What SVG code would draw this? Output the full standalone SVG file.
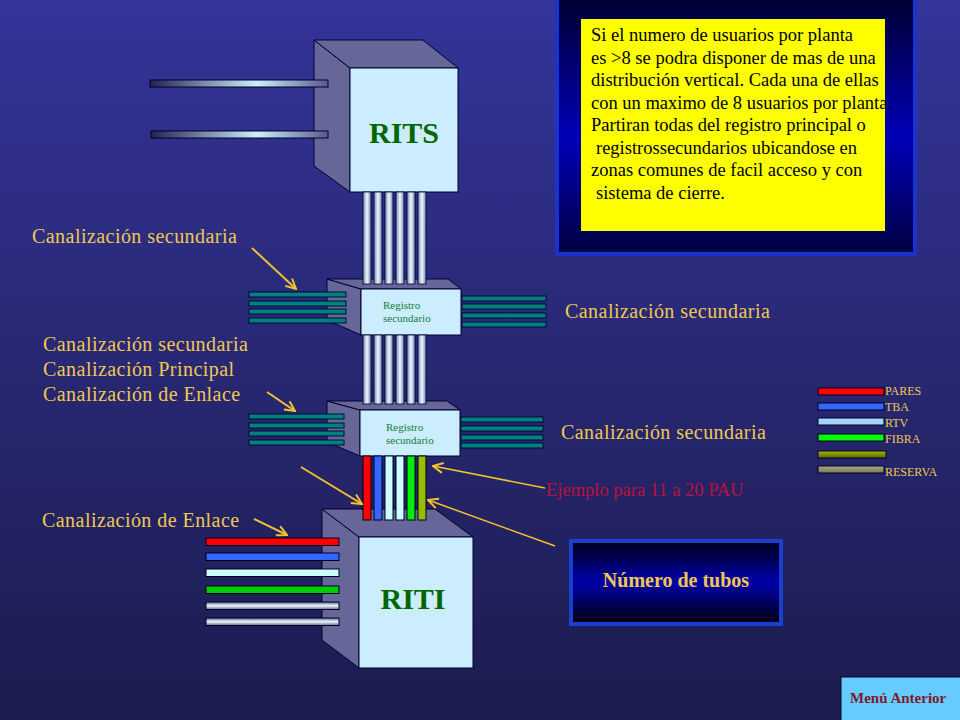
<svg xmlns="http://www.w3.org/2000/svg" width="960" height="720" viewBox="0 0 960 720">
<defs>
<linearGradient id="bg" x1="0" y1="0" x2="0" y2="1"><stop offset="0" stop-color="#34349a"/><stop offset="1" stop-color="#1c1c4e"/></linearGradient>
<linearGradient id="hbar" x1="0" y1="0" x2="1" y2="0"><stop offset="0" stop-color="#222255"/><stop offset="0.6" stop-color="#ccf0ff"/><stop offset="1" stop-color="#555a90"/></linearGradient>
<linearGradient id="vtube" x1="0" y1="0" x2="1" y2="0"><stop offset="0" stop-color="#6f86b0"/><stop offset="0.5" stop-color="#eef8ff"/><stop offset="1" stop-color="#6f86b0"/></linearGradient>
<linearGradient id="gbar" x1="0" y1="0" x2="0" y2="1"><stop offset="0" stop-color="#5a6a90"/><stop offset="0.5" stop-color="#eef8ff"/><stop offset="1" stop-color="#5a6a90"/></linearGradient>
<linearGradient id="olive" x1="0" y1="0" x2="0" y2="1"><stop offset="0" stop-color="#aabb00"/><stop offset="1" stop-color="#556600"/></linearGradient>
<linearGradient id="grayolive" x1="0" y1="0" x2="0" y2="1"><stop offset="0" stop-color="#aaaa88"/><stop offset="1" stop-color="#777755"/></linearGradient>
<linearGradient id="navy" x1="0" y1="0" x2="0" y2="1"><stop offset="0" stop-color="#000030"/><stop offset="0.55" stop-color="#0000b8"/><stop offset="1" stop-color="#000040"/></linearGradient>
<linearGradient id="navy2" x1="0" y1="0" x2="0" y2="1"><stop offset="0" stop-color="#000018"/><stop offset="0.5" stop-color="#0000aa"/><stop offset="1" stop-color="#000010"/></linearGradient>
<marker id="ah" viewBox="0 0 12 12" refX="11" refY="6" markerWidth="12" markerHeight="12" markerUnits="userSpaceOnUse" orient="auto"><path d="M1,1 L11,6 L1,11" fill="none" stroke="#F2C12E" stroke-width="2"/></marker>
</defs>
<style>
.side{fill:#666699;stroke:#000033;stroke-width:1}
.front{fill:#CCECFF;stroke:#000033;stroke-width:1}
.big{font-family:"Liberation Serif","Times New Roman",serif;font-weight:bold;font-size:30px;fill:#006600;text-anchor:middle}
.reg{font-family:"Liberation Serif","Times New Roman",serif;font-size:11px;fill:#108036}
.tube{fill:url(#vtube);stroke:#000033;stroke-width:0.8}
.teal{fill:#008080;stroke:#000d33;stroke-width:1}
.bar{stroke:#000022;stroke-width:1}
.lbl{font-family:"Liberation Serif","Times New Roman",serif;font-size:20px;fill:#F0C850;letter-spacing:0.45px}
.leg{font-family:"Liberation Serif","Times New Roman",serif;font-size:12px;fill:#F0C850}
.info{font-family:"Liberation Serif","Times New Roman",serif;font-size:18.5px;fill:#000000}
.arr{stroke:#F2C12E;stroke-width:2;fill:none;marker-end:url(#ah)}
.arr2{stroke:#F2C12E;stroke-width:1.5;fill:none;marker-end:url(#ah)}
</style>
<rect x="0" y="0" width="960" height="720" fill="url(#bg)"/>

<g id="rits">
<polygon class="side" points="314,40 350,68 350,192 314,166"/>
<polygon class="side" points="314,40 423,40 458,68 350,68"/>
<rect class="front" x="350" y="68" width="108" height="124"/>
<text class="big" x="404" y="143">RITS</text>
<rect x="150" y="80" width="178" height="7" fill="url(#hbar)" stroke="#000022"/>
<rect x="151" y="131" width="177" height="7" fill="url(#hbar)" stroke="#000022"/>
</g>

<g id="registro1">
<polygon class="side" points="327,279 361,289 361,335 327,320"/>
<polygon class="side" points="327,279 448,279 461,289 361,289"/>
<rect class="teal" x="249" y="292" width="97" height="5"/>
<rect class="teal" x="249" y="301" width="97" height="5"/>
<rect class="teal" x="249" y="309" width="97" height="5"/>
<rect class="teal" x="249" y="318" width="97" height="5"/>
<rect class="front" x="361" y="289" width="100" height="46"/>
<rect class="teal" x="462" y="296" width="84" height="5"/>
<rect class="teal" x="462" y="304" width="84" height="5"/>
<rect class="teal" x="462" y="313" width="84" height="5"/>
<rect class="teal" x="462" y="322" width="84" height="5"/>
<text class="reg" x="383" y="309">Registro</text>
<text class="reg" x="383" y="322">secundario</text>
</g>

<g id="registro2">
<polygon class="side" points="327,401 360,410 360,456 327,442"/>
<polygon class="side" points="327,401 447,401 460,410 360,410"/>
<rect class="teal" x="249" y="414" width="95" height="5"/>
<rect class="teal" x="249" y="423" width="95" height="5"/>
<rect class="teal" x="249" y="431" width="95" height="5"/>
<rect class="teal" x="249" y="440" width="95" height="5"/>
<rect class="front" x="360" y="410" width="100" height="46"/>
<rect class="teal" x="461" y="417" width="82" height="5"/>
<rect class="teal" x="461" y="426" width="82" height="5"/>
<rect class="teal" x="461" y="435" width="82" height="5"/>
<rect class="teal" x="461" y="443" width="82" height="5"/>
<text class="reg" x="386" y="431">Registro</text>
<text class="reg" x="386" y="444">secundario</text>
</g>

<g id="riti">
<polygon class="side" points="322,509 359,537 359,668 322,640"/>
<polygon class="side" points="322,509 435,509 473,537 359,537"/>
<rect class="front" x="359" y="537" width="114" height="131"/>
<text class="big" x="413" y="609">RITI</text>
<rect class="bar" x="206" y="538" width="133" height="7.5" fill="#FF0000"/>
<rect class="bar" x="206" y="553" width="133" height="7.5" fill="#3366FF"/>
<rect class="bar" x="206" y="569" width="133" height="7.5" fill="#CCFFFF"/>
<rect class="bar" x="206" y="586" width="133" height="7.5" fill="#00CC00"/>
<rect class="bar" x="206" y="602" width="133" height="7.5" fill="url(#gbar)"/>
<rect class="bar" x="206" y="618" width="133" height="7.5" fill="url(#gbar)"/>
</g>

<g id="tubos-principales">
<rect class="tube" x="363" y="192" width="8" height="92"/>
<rect class="tube" x="374" y="192" width="8" height="92"/>
<rect class="tube" x="385" y="192" width="8" height="92"/>
<rect class="tube" x="396" y="192" width="8" height="92"/>
<rect class="tube" x="407" y="192" width="8" height="92"/>
<rect class="tube" x="418" y="192" width="8" height="92"/>
</g>

<g id="tubos-medios">
<rect class="tube" x="363" y="335" width="8" height="69"/>
<rect class="tube" x="374" y="335" width="8" height="69"/>
<rect class="tube" x="385" y="335" width="8" height="69"/>
<rect class="tube" x="396" y="335" width="8" height="69"/>
<rect class="tube" x="407" y="335" width="8" height="69"/>
<rect class="tube" x="418" y="335" width="8" height="69"/>
</g>

<g id="tubos-enlace">
<rect class="bar" x="363" y="456" width="8" height="64" fill="#FF0000"/>
<rect class="bar" x="374" y="456" width="8" height="64" fill="#3366FF"/>
<rect class="bar" x="385" y="456" width="8" height="64" fill="#CCFFFF"/>
<rect class="bar" x="396" y="456" width="8" height="64" fill="#CCFFFF"/>
<rect class="bar" x="407" y="456" width="8" height="64" fill="#00EE00"/>
<rect class="bar" x="418" y="456" width="8" height="64" fill="#99BB00"/>
</g>

<g id="info-box">
<rect x="557" y="-3" width="358" height="257" fill="url(#navy)" stroke="#1a33cc" stroke-width="4"/>
<rect x="581" y="19" width="304" height="212" fill="#FFFF00"/>
<text class="info" x="591" y="41">Si el numero de usuarios  por planta</text>
<text class="info" x="591" y="63.5">es &gt;8 se podra disponer de mas de una</text>
<text class="info" x="591" y="86">distribución  vertical. Cada una de ellas</text>
<text class="info" x="591" y="108.5">con un maximo de 8 usuarios por planta.</text>
<text class="info" x="591" y="131">Partiran todas del registro principal o</text>
<text class="info" x="596" y="153.5">registrossecundarios ubicandose en</text>
<text class="info" x="591" y="176">zonas comunes de facil acceso y con</text>
<text class="info" x="596" y="198.5">sistema de cierre.</text>
</g>

<g id="labels">
<text class="lbl" x="32" y="243">Canalización secundaria</text>
<text class="lbl" x="43" y="351">Canalización secundaria</text>
<text class="lbl" x="43" y="376">Canalización Principal</text>
<text class="lbl" x="43" y="401">Canalización de Enlace</text>
<text class="lbl" x="42" y="527">Canalización de Enlace</text>
<text class="lbl" x="565" y="318">Canalización secundaria</text>
<text class="lbl" x="561" y="439">Canalización secundaria</text>
<text x="546" y="496" font-family="Liberation Serif, Times New Roman, serif" font-size="18.5" fill="#B8123C">Ejemplo para 11 a 20 PAU</text>
</g>

<g id="legend">
<rect class="bar" x="818" y="388" width="66" height="7" fill="#FF0000"/>
<rect class="bar" x="818" y="403" width="66" height="7" fill="#3366FF"/>
<rect class="bar" x="818" y="418" width="66" height="7" fill="#A6D2FF"/>
<rect class="bar" x="818" y="434" width="66" height="7" fill="#00FF00"/>
<rect class="bar" x="818" y="451" width="68" height="7" fill="url(#olive)"/>
<rect class="bar" x="818" y="466" width="66" height="7" fill="url(#grayolive)"/>
<text class="leg" x="885" y="395">PARES</text>
<text class="leg" x="885" y="411">TBA</text>
<text class="leg" x="885" y="427">RTV</text>
<text class="leg" x="885" y="443">FIBRA</text>
<text class="leg" x="885" y="476">RESERVA</text>
</g>

<g id="tubos-box">
<rect x="571" y="541" width="210" height="83" fill="url(#navy2)" stroke="#1a3fd0" stroke-width="4"/>
<text x="676" y="587" font-family="Liberation Serif, Times New Roman, serif" font-weight="bold" font-size="20" fill="#F0C850" text-anchor="middle">Número  de tubos</text>
</g>

<g id="menu">
<rect x="841" y="677" width="120" height="44" fill="#66CCFF" stroke="#000033" stroke-width="1"/>
<text x="850" y="703" font-family="Liberation Serif, Times New Roman, serif" font-weight="bold" font-size="15" fill="#801830">Menú Anterior</text>
</g>

<g id="connectors">
<line class="arr" x1="252" y1="248" x2="296" y2="289"/>
<line class="arr" x1="267" y1="392" x2="295" y2="411"/>
<line class="arr" x1="301" y1="467" x2="362" y2="504"/>
<line class="arr" x1="254" y1="519" x2="287" y2="535"/>
<line class="arr2" x1="545" y1="488" x2="433" y2="466"/>
<line class="arr2" x1="555" y1="546" x2="428" y2="500"/>
</g>
</svg>
